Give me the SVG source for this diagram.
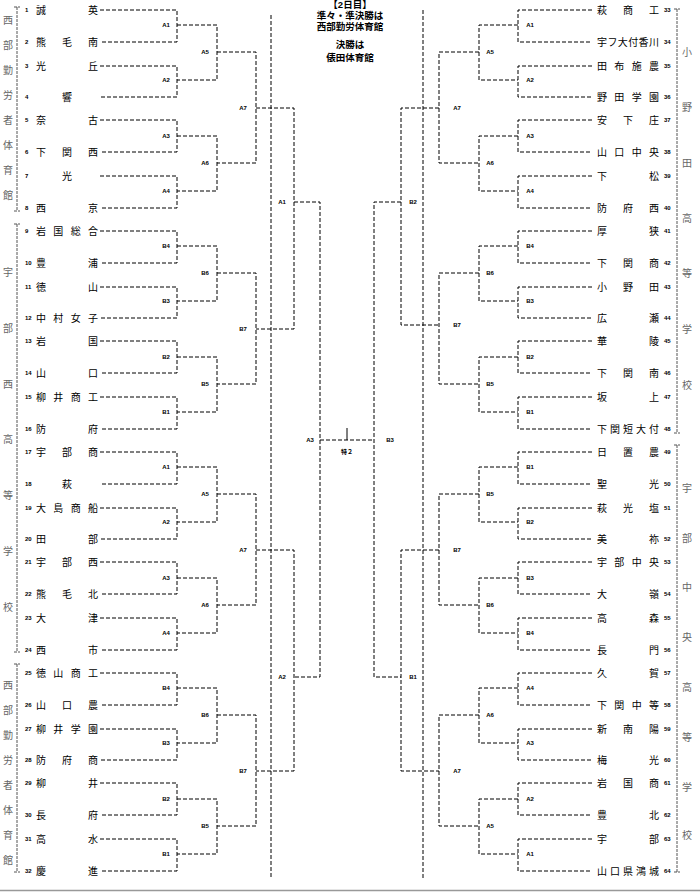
<svg xmlns="http://www.w3.org/2000/svg" width="700" height="892" viewBox="0 0 700 892">
<style>
.l{fill:none;stroke:#000;stroke-width:1;stroke-dasharray:4 2}
.b{fill:none;stroke:#555;stroke-width:1;stroke-dasharray:3 1}
.t{font-family:"Liberation Sans","Noto Sans CJK JP",sans-serif;font-size:10px;fill:#000}
.n{font-family:"Liberation Sans","Noto Sans CJK JP",sans-serif;font-size:6px;font-weight:bold;fill:#000}
.m{font-family:"Liberation Sans","Noto Sans CJK JP",sans-serif;font-size:6px;font-weight:bold;fill:#000;text-anchor:middle}
.v{font-family:"Liberation Sans","Noto Sans CJK JP",sans-serif;font-size:10px;fill:#666;text-anchor:middle}
.h{font-family:"Liberation Sans","Noto Sans CJK JP",sans-serif;font-size:9.5px;font-weight:bold;fill:#000;text-anchor:middle}
</style>
<rect width="700" height="892" fill="#fff"/>
<g id="header">
<text class="h" x="350" y="8">【2日目】</text>
<text class="h" x="350" y="19">準々・準決勝は</text>
<text class="h" x="350" y="30">西部勤労体育館</text>
<text class="h" x="350" y="48">決勝は</text>
<text class="h" x="350" y="61">俵田体育館</text>
</g>
<g id="venues">
<path class="b" d="M14 7H20M17 7V211M14 211H20"/>
<path class="b" d="M14 224H20M17 224V652M14 652H20"/>
<path class="b" d="M14 664H20M17 664V872M14 872H20"/>
<path class="b" d="M674 9H680M677 9V433M674 433H680"/>
<path class="b" d="M674 445H680M677 445V872M674 872H680"/>
<text class="v" x="8 8 8 8 8 8 8 8" y="24 49 74 99 124 149 174 199">西部勤労者体育館</text>
<text class="v" x="8 8 8 8 8 8 8" y="276 332 388 443 499 555 611">宇部西高等学校</text>
<text class="v" x="8 8 8 8 8 8 8 8" y="689 714 739 764 789 814 839 864">西部勤労者体育館</text>
<text class="v" x="687 687 687 687 687 687 687" y="56 111 167 222 277 333 389">小野田高等学校</text>
<text class="v" x="687 687 687 687 687 687 687 687" y="492 542 591 641 691 741 791 839">宇部中央高等学校</text>
</g>
<g id="connectors">
<path class="l" d="M100 10H177V42H100M100 66H177V97H100M100 120H177V152H100M100 176H177V208H100M177 25H217V80H177M177 136H217V191H177M217 52H256V163H217"/>
<path class="l" d="M100 231H177V263H100M100 287H177V318H100M100 341H177V373H100M100 397H177V429H100M177 246H217V301H177M177 357H217V412H177M217 273H256V384H217"/>
<path class="l" d="M100 452H177V484H100M100 508H177V539H100M100 562H177V594H100M100 618H177V650H100M177 467H217V522H177M177 578H217V633H177M217 494H256V605H217"/>
<path class="l" d="M100 673H177V705H100M100 729H177V760H100M100 783H177V815H100M100 839H177V871H100M177 688H217V743H177M177 799H217V854H177M217 715H256V826H217"/>
<path class="l" d="M592 10H518V42H592M592 66H518V97H592M592 120H518V152H592M592 176H518V208H592M518 25H479V80H518M518 136H479V191H518M479 52H439V163H479"/>
<path class="l" d="M592 231H518V263H592M592 287H518V318H592M592 341H518V373H592M592 397H518V429H592M518 246H479V301H518M518 357H479V412H518M479 273H439V384H479"/>
<path class="l" d="M592 452H518V484H592M592 508H518V539H592M592 562H518V594H592M592 618H518V650H592M518 467H479V522H518M518 578H479V633H518M479 494H439V605H479"/>
<path class="l" d="M592 673H518V705H592M592 729H518V760H592M592 783H518V815H592M592 839H518V871H592M518 688H479V743H518M518 799H479V854H518M479 715H439V826H479"/>
<path class="l" d="M256 108H294V329H256M294 202H320V677H294M256 550H294V771H256M320 440H374M401 202H374V677H401M439 108H401V325H439M439 550H401V771H439"/>
<path class="l" d="M271 15V878M423 10V878"/>
<path fill="none" stroke="#000" stroke-width="1" d="M347 428V440"/>
</g>
<g id="matches">
<text class="m" x="166" y="27">A1</text><text class="m" x="166" y="82">A2</text><text class="m" x="166" y="138">A3</text><text class="m" x="166" y="193">A4</text>
<text class="m" x="166" y="248">B4</text><text class="m" x="166" y="303">B3</text><text class="m" x="166" y="359">B2</text><text class="m" x="166" y="414">B1</text>
<text class="m" x="166" y="469">A1</text><text class="m" x="166" y="524">A2</text><text class="m" x="166" y="580">A3</text><text class="m" x="166" y="635">A4</text>
<text class="m" x="166" y="690">B4</text><text class="m" x="166" y="745">B3</text><text class="m" x="166" y="801">B2</text><text class="m" x="166" y="856">B1</text>
<text class="m" x="205" y="54">A5</text><text class="m" x="205" y="165">A6</text><text class="m" x="205" y="275">B6</text><text class="m" x="205" y="386">B5</text>
<text class="m" x="205" y="496">A5</text><text class="m" x="205" y="607">A6</text><text class="m" x="205" y="717">B6</text><text class="m" x="205" y="828">B5</text>
<text class="m" x="243" y="110">A7</text><text class="m" x="243" y="331">B7</text><text class="m" x="243" y="552">A7</text><text class="m" x="243" y="773">B7</text>
<text class="m" x="282" y="204">A1</text><text class="m" x="282" y="679">A2</text><text class="m" x="310" y="442">A3</text>
<text class="m" x="390" y="442">B3</text><text class="m" x="413" y="204">B2</text><text class="m" x="413" y="679">B1</text>
<text class="m" x="347" y="454">特２</text>
<text class="m" x="530" y="27">A1</text><text class="m" x="530" y="82">A2</text><text class="m" x="530" y="138">A3</text><text class="m" x="530" y="193">A4</text>
<text class="m" x="530" y="248">B4</text><text class="m" x="530" y="303">B3</text><text class="m" x="530" y="359">B2</text><text class="m" x="530" y="414">B1</text>
<text class="m" x="530" y="469">B1</text><text class="m" x="530" y="524">B2</text><text class="m" x="530" y="580">B3</text><text class="m" x="530" y="635">B4</text>
<text class="m" x="530" y="690">A4</text><text class="m" x="530" y="745">A3</text><text class="m" x="530" y="801">A2</text><text class="m" x="530" y="856">A1</text>
<text class="m" x="490" y="54">A5</text><text class="m" x="490" y="165">A6</text><text class="m" x="490" y="275">B6</text><text class="m" x="490" y="386">B5</text>
<text class="m" x="490" y="496">B5</text><text class="m" x="490" y="607">B6</text><text class="m" x="490" y="717">A6</text><text class="m" x="490" y="828">A5</text>
<text class="m" x="457" y="110">A7</text><text class="m" x="457" y="327">B7</text><text class="m" x="457" y="552">B7</text><text class="m" x="457" y="773">A7</text>
</g>
<g id="t1"><text class="n" x="25" y="12">1</text><text class="t" x="36 88" y="14">誠英</text></g>
<g id="t2"><text class="n" x="25" y="44">2</text><text class="t" x="36 62 88" y="46">熊毛南</text></g>
<g id="t3"><text class="n" x="25" y="68">3</text><text class="t" x="36 88" y="70">光丘</text></g>
<g id="t4"><text class="n" x="25" y="99">4</text><text class="t" x="62" y="101">響</text></g>
<g id="t5"><text class="n" x="25" y="122">5</text><text class="t" x="36 88" y="124">奈古</text></g>
<g id="t6"><text class="n" x="25" y="154">6</text><text class="t" x="36 62 88" y="156">下関西</text></g>
<g id="t7"><text class="n" x="25" y="178">7</text><text class="t" x="62" y="180">光</text></g>
<g id="t8"><text class="n" x="25" y="210">8</text><text class="t" x="36 88" y="212">西京</text></g>
<g id="t9"><text class="n" x="25" y="233">9</text><text class="t" x="36 53.3 70.7 88" y="235">岩国総合</text></g>
<g id="t10"><text class="n" x="25" y="265">10</text><text class="t" x="36 88" y="267">豊浦</text></g>
<g id="t11"><text class="n" x="25" y="289">11</text><text class="t" x="36 88" y="291">徳山</text></g>
<g id="t12"><text class="n" x="25" y="320">12</text><text class="t" x="36 53.3 70.7 88" y="322">中村女子</text></g>
<g id="t13"><text class="n" x="25" y="343">13</text><text class="t" x="36 88" y="345">岩国</text></g>
<g id="t14"><text class="n" x="25" y="375">14</text><text class="t" x="36 88" y="377">山口</text></g>
<g id="t15"><text class="n" x="25" y="399">15</text><text class="t" x="36 53.3 70.7 88" y="401">柳井商工</text></g>
<g id="t16"><text class="n" x="25" y="431">16</text><text class="t" x="36 88" y="433">防府</text></g>
<g id="t17"><text class="n" x="25" y="454">17</text><text class="t" x="36 62 88" y="456">宇部商</text></g>
<g id="t18"><text class="n" x="25" y="486">18</text><text class="t" x="62" y="488">萩</text></g>
<g id="t19"><text class="n" x="25" y="510">19</text><text class="t" x="36 53.3 70.7 88" y="512">大島商船</text></g>
<g id="t20"><text class="n" x="25" y="541">20</text><text class="t" x="36 88" y="543">田部</text></g>
<g id="t21"><text class="n" x="25" y="564">21</text><text class="t" x="36 62 88" y="566">宇部西</text></g>
<g id="t22"><text class="n" x="25" y="596">22</text><text class="t" x="36 62 88" y="598">熊毛北</text></g>
<g id="t23"><text class="n" x="25" y="620">23</text><text class="t" x="36 88" y="622">大津</text></g>
<g id="t24"><text class="n" x="25" y="652">24</text><text class="t" x="36 88" y="654">西市</text></g>
<g id="t25"><text class="n" x="25" y="675">25</text><text class="t" x="36 53.3 70.7 88" y="677">徳山商工</text></g>
<g id="t26"><text class="n" x="25" y="707">26</text><text class="t" x="36 62 88" y="709">山口農</text></g>
<g id="t27"><text class="n" x="25" y="731">27</text><text class="t" x="36 53.3 70.7 88" y="733">柳井学園</text></g>
<g id="t28"><text class="n" x="25" y="762">28</text><text class="t" x="36 62 88" y="764">防府商</text></g>
<g id="t29"><text class="n" x="25" y="785">29</text><text class="t" x="36 88" y="787">柳井</text></g>
<g id="t30"><text class="n" x="25" y="817">30</text><text class="t" x="36 88" y="819">長府</text></g>
<g id="t31"><text class="n" x="25" y="841">31</text><text class="t" x="36 88" y="843">高水</text></g>
<g id="t32"><text class="n" x="25" y="873">32</text><text class="t" x="36 88" y="875">慶進</text></g>
<g id="t33"><text class="n" x="664" y="12">33</text><text class="t" x="597 623 649" y="14">萩商工</text></g>
<g id="t34"><text class="n" x="664" y="44">34</text><text class="t" x="597 607.4 617.8 628.2 638.6 649" y="46">宇フ大付香川</text></g>
<g id="t35"><text class="n" x="664" y="68">35</text><text class="t" x="597 614.3 631.7 649" y="70">田布施農</text></g>
<g id="t36"><text class="n" x="664" y="99">36</text><text class="t" x="597 614.3 631.7 649" y="101">野田学園</text></g>
<g id="t37"><text class="n" x="664" y="122">37</text><text class="t" x="597 623 649" y="124">安下庄</text></g>
<g id="t38"><text class="n" x="664" y="154">38</text><text class="t" x="597 614.3 631.7 649" y="156">山口中央</text></g>
<g id="t39"><text class="n" x="664" y="178">39</text><text class="t" x="597 649" y="180">下松</text></g>
<g id="t40"><text class="n" x="664" y="210">40</text><text class="t" x="597 623 649" y="212">防府西</text></g>
<g id="t41"><text class="n" x="664" y="233">41</text><text class="t" x="597 649" y="235">厚狭</text></g>
<g id="t42"><text class="n" x="664" y="265">42</text><text class="t" x="597 623 649" y="267">下関商</text></g>
<g id="t43"><text class="n" x="664" y="289">43</text><text class="t" x="597 623 649" y="291">小野田</text></g>
<g id="t44"><text class="n" x="664" y="320">44</text><text class="t" x="597 649" y="322">広瀬</text></g>
<g id="t45"><text class="n" x="664" y="343">45</text><text class="t" x="597 649" y="345">華陵</text></g>
<g id="t46"><text class="n" x="664" y="375">46</text><text class="t" x="597 623 649" y="377">下関南</text></g>
<g id="t47"><text class="n" x="664" y="399">47</text><text class="t" x="597 649" y="401">坂上</text></g>
<g id="t48"><text class="n" x="664" y="431">48</text><text class="t" x="597 610 623 636 649" y="433">下関短大付</text></g>
<g id="t49"><text class="n" x="664" y="454">49</text><text class="t" x="597 623 649" y="456">日置農</text></g>
<g id="t50"><text class="n" x="664" y="486">50</text><text class="t" x="597 649" y="488">聖光</text></g>
<g id="t51"><text class="n" x="664" y="510">51</text><text class="t" x="597 623 649" y="512">萩光塩</text></g>
<g id="t52"><text class="n" x="664" y="541">52</text><text class="t" x="597 649" y="543">美祢</text></g>
<g id="t53"><text class="n" x="664" y="564">53</text><text class="t" x="597 614.3 631.7 649" y="566">宇部中央</text></g>
<g id="t54"><text class="n" x="664" y="596">54</text><text class="t" x="597 649" y="598">大嶺</text></g>
<g id="t55"><text class="n" x="664" y="620">55</text><text class="t" x="597 649" y="622">高森</text></g>
<g id="t56"><text class="n" x="664" y="652">56</text><text class="t" x="597 649" y="654">長門</text></g>
<g id="t57"><text class="n" x="664" y="675">57</text><text class="t" x="597 649" y="677">久賀</text></g>
<g id="t58"><text class="n" x="664" y="707">58</text><text class="t" x="597 614.3 631.7 649" y="709">下関中等</text></g>
<g id="t59"><text class="n" x="664" y="731">59</text><text class="t" x="597 623 649" y="733">新南陽</text></g>
<g id="t60"><text class="n" x="664" y="762">60</text><text class="t" x="597 649" y="764">梅光</text></g>
<g id="t61"><text class="n" x="664" y="785">61</text><text class="t" x="597 623 649" y="787">岩国商</text></g>
<g id="t62"><text class="n" x="664" y="817">62</text><text class="t" x="597 649" y="819">豊北</text></g>
<g id="t63"><text class="n" x="664" y="841">63</text><text class="t" x="597 649" y="843">宇部</text></g>
<g id="t64"><text class="n" x="664" y="873">64</text><text class="t" x="597 610 623 636 649" y="875">山口県鴻城</text></g>
<line x1="0" y1="890.5" x2="700" y2="890.5" stroke="#999" stroke-width="1.5"/>
</svg>
